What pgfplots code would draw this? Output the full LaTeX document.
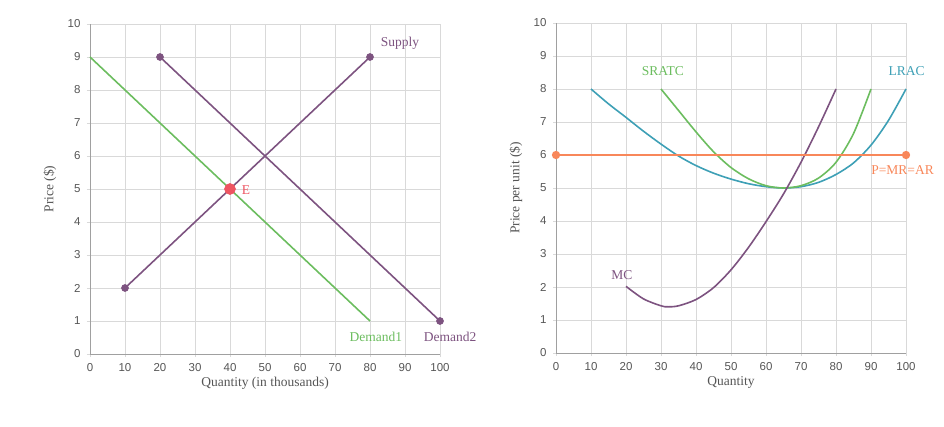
\documentclass[border=0pt]{standalone}
\usepackage{fontspec}
\setmainfont{Liberation Serif}
\setsansfont{Liberation Sans}
\usepackage{pgfplots}
\pgfplotsset{compat=1.18}
\definecolor{cpurple}{HTML}{7D5380}
\definecolor{cgreen}{HTML}{6CBD5F}
\definecolor{cred}{HTML}{EE5461}
\definecolor{cteal}{HTML}{3EA0B6}
\definecolor{corange}{HTML}{F8875A}
\definecolor{cgrid}{HTML}{D9D9D9}
\definecolor{caxis}{HTML}{A0A0A0}
\definecolor{ctick}{HTML}{555555}
\pgfplotsset{mystyle/.style={
  scale only axis, width=350pt, height=330pt,
  xmin=0, xmax=100, ymin=0, ymax=10,
  xtick={0,10,...,100}, ytick={0,1,...,10},
  axis lines=left, axis line style={draw=caxis,-, line width=0.8pt},
  grid=major, grid style={draw=cgrid, line width=0.6pt},
  tick align=outside, major tick length=3pt, tick style={draw=cgrid, line width=0.6pt},
  ticklabel style={font=\sffamily\fontsize{11.5}{12}\selectfont, text=ctick},
  xticklabel style={yshift=-2.5pt},
  yticklabel style={xshift=-3pt},
  /pgf/number format/assume math mode=true,
  every axis x label/.style={at={(axis description cs:0.5,-0.088)}, anchor=center, font=\fontsize{13.5}{15}\selectfont, text=ctick},
  every axis y label/.style={at={(axis description cs:-0.1143,0.5)}, rotate=90, anchor=center, font=\fontsize{13.5}{15}\selectfont, text=ctick},
  clip=false,
  every axis plot/.append style={line width=1.6pt},
}}
\begin{document}
\begin{tikzpicture}[x=1pt,y=1pt]
\useasboundingbox (0,0) rectangle (944,426);
% Left chart
\begin{axis}[mystyle, at={(90pt,72pt)}, anchor=south west,
  xlabel={Quantity (in thousands)}, ylabel={Price (\$)}]
\addplot[cgreen, no marks] coordinates {(0,9) (80,1)};
\addplot[cpurple, mark=*, mark size=3pt, mark options={fill=cpurple, draw=cpurple}] coordinates {(10,2) (80,9)};
\addplot[cpurple, mark=*, mark size=3pt, mark options={fill=cpurple, draw=cpurple}] coordinates {(20,9) (100,1)};
\addplot[only marks, mark=*, mark size=5pt, mark options={fill=cred, draw=cred}] coordinates {(40,5)};
\node[text=cpurple, font=\fontsize{13.5}{15}\selectfont] at (axis cs:88.6,9.42) {Supply};
\node[text=cgreen, font=\fontsize{13.5}{15}\selectfont] at (axis cs:81.7,0.52) {Demand1};
\node[text=cpurple, font=\fontsize{13.5}{15}\selectfont] at (axis cs:102.9,0.52) {Demand2};
\node[text=cred, font=\fontsize{13.5}{15}\selectfont] at (axis cs:44.6,4.98) {E};
\end{axis}
% Right chart
\begin{axis}[mystyle, at={(556pt,73pt)}, anchor=south west,
  xlabel={Quantity}, ylabel={Price per unit (\$)}]
\addplot[cteal, no marks, smooth] coordinates {(10,8) (15,7.55) (20,7.14) (25,6.72) (30,6.33) (35,5.97) (40,5.68) (45,5.45) (50,5.27) (55,5.13) (60,5.04) (65,5.0) (70,5.04) (75,5.17) (80,5.41) (85,5.76) (90,6.3) (95,7.05) (100,8.0)};
\addplot[cgreen, no marks, smooth] coordinates {(30,8) (35,7.35) (40,6.7) (45,6.1) (50,5.62) (55,5.28) (60,5.07) (65,5.0) (70,5.07) (75,5.3) (80,5.78) (85,6.65) (90,8.0)};
\addplot[cpurple, no marks, smooth] coordinates {(20,2.02) (25,1.64) (30,1.43) (32,1.4) (35,1.43) (40,1.62) (45,1.98) (50,2.52) (55,3.2) (60,3.98) (65,4.82) (70,5.78) (75,6.85) (80,8.0)};
\addplot[corange, mark=*, mark size=3.3pt, mark options={fill=corange, draw=corange}] coordinates {(0,6) (100,6)};
\node[text=cgreen, font=\fontsize{13.5}{15}\selectfont] at (axis cs:30.5,8.53) {SRATC};
\node[text=cteal, font=\fontsize{13.5}{15}\selectfont] at (axis cs:100.2,8.53) {LRAC};
\node[text=corange, font=\fontsize{13.5}{15}\selectfont] at (axis cs:99,5.53) {P=MR=AR};
\node[text=cpurple, font=\fontsize{13.5}{15}\selectfont] at (axis cs:18.8,2.36) {MC};
\end{axis}
\end{tikzpicture}
\end{document}
